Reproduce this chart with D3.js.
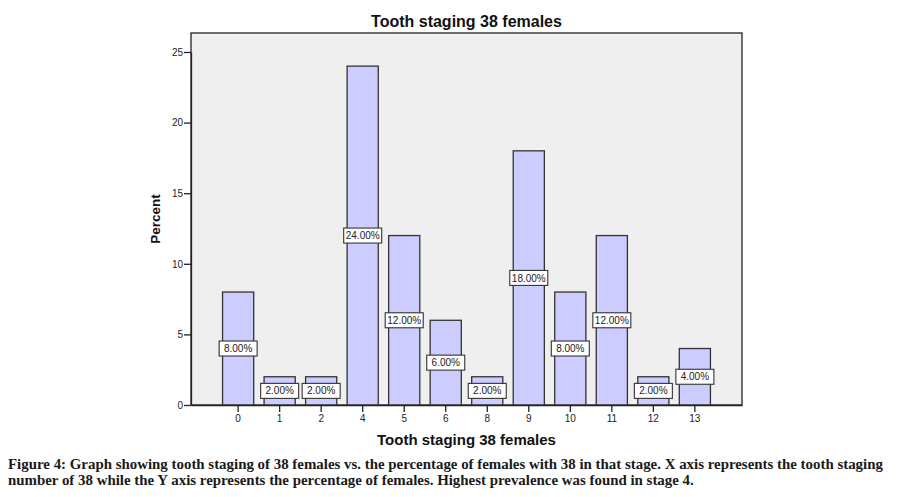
<!DOCTYPE html>
<html><head><meta charset="utf-8">
<script src="https://cdn.jsdelivr.net/npm/d3@7/dist/d3.min.js"></script>
<style>body{margin:0;background:#fff}svg{display:block}</style>
</head><body>
<svg id="c" width="899" height="497"></svg>
<script>
const categories = ["0","1","2","4","5","6","8","9","10","11","12","13"];
const percents = [8, 2, 2, 24, 12, 6, 2, 18, 8, 12, 2, 4];
const yTicks = [0, 5, 10, 15, 20, 25];
const title = "Tooth staging 38 females";
const xTitle = "Tooth staging 38 females";
const yTitle = "Percent";
const caption = [
  "Figure 4: Graph showing tooth staging of 38 females vs. the percentage of females with 38 in that stage. X axis represents the tooth staging",
  "number of 38 while the Y axis represents the percentage of females. Highest prevalence was found in stage 4."
];

const svg = d3.select("#c");
const L = 191, R = 742, T = 33, B = 405;
const x = d3.scaleBand().domain(categories).range([L, R]).paddingInner(0.25).paddingOuter(0.76);
const y = d3.scaleLinear().domain([0, 25]).range([B, 52]);
const sans = "Liberation Sans, Arial, Helvetica, sans-serif";

svg.append("rect").attr("x", L).attr("y", T).attr("width", R - L).attr("height", B - T)
  .attr("fill", "#efefef").attr("stroke", "#222").attr("stroke-width", 1.3);

svg.append("g").selectAll("rect").data(percents).join("rect")
  .attr("x", (d, i) => x(categories[i]))
  .attr("y", d => y(d))
  .attr("width", x.bandwidth())
  .attr("height", d => B - y(d))
  .attr("fill", "#ccccff").attr("stroke", "#333").attr("stroke-width", 1.3);

const yAxis = svg.append("g").attr("transform", `translate(${L},0)`)
  .call(d3.axisLeft(y).tickValues(yTicks).tickSize(7).tickSizeOuter(0).tickPadding(1));
const xAxis = svg.append("g").attr("transform", `translate(0,${B})`)
  .call(d3.axisBottom(x).tickSize(7).tickSizeOuter(0).tickPadding(3));
[yAxis, xAxis].forEach(g => {
  g.select(".domain").attr("stroke", "#222").attr("stroke-width", 1.3);
  g.selectAll(".tick line").attr("stroke", "#222").attr("stroke-width", 1.3);
  g.selectAll("text").attr("font-family", sans).attr("font-size", 10).attr("fill", "#222");
});

// value labels
const lab = svg.append("g").selectAll("g").data(percents).join("g")
  .attr("transform", (d, i) => `translate(${x(categories[i]) + x.bandwidth() / 2},${y(d / 2)})`);
lab.append("rect").attr("x", -19).attr("y", -7.5).attr("width", 38).attr("height", 15)
  .attr("fill", "#fff").attr("stroke", "#333").attr("stroke-width", 1.1);
lab.append("text").attr("text-anchor", "middle").attr("dy", "0.36em")
  .attr("font-family", sans).attr("font-size", 10).attr("fill", "#222")
  .text(d => d3.format(".2f")(d) + "%");

svg.append("text").attr("x", (L + R) / 2).attr("y", 27).attr("text-anchor", "middle")
  .attr("font-family", sans).attr("font-weight", "bold").attr("font-size", 16)
  .attr("fill", "#111").text(title);
svg.append("text").attr("x", (L + R) / 2).attr("y", 445).attr("text-anchor", "middle")
  .attr("font-family", sans).attr("font-weight", "bold").attr("font-size", 15)
  .attr("fill", "#111").text(xTitle);
svg.append("text").attr("transform", `translate(160,${(T + B) / 2}) rotate(-90)`).attr("text-anchor", "middle")
  .attr("font-family", sans).attr("font-weight", "bold").attr("font-size", 13.5)
  .attr("fill", "#111").text(yTitle);

svg.append("g").selectAll("text").data(caption).join("text")
  .attr("x", 8).attr("y", (d, i) => 469 + i * 15.5)
  .attr("font-family", "Liberation Serif, serif").attr("font-weight", "bold").attr("font-size", 14.9)
  .attr("fill", "#1a1a1a").text(d => d);
</script>
</body></html>
